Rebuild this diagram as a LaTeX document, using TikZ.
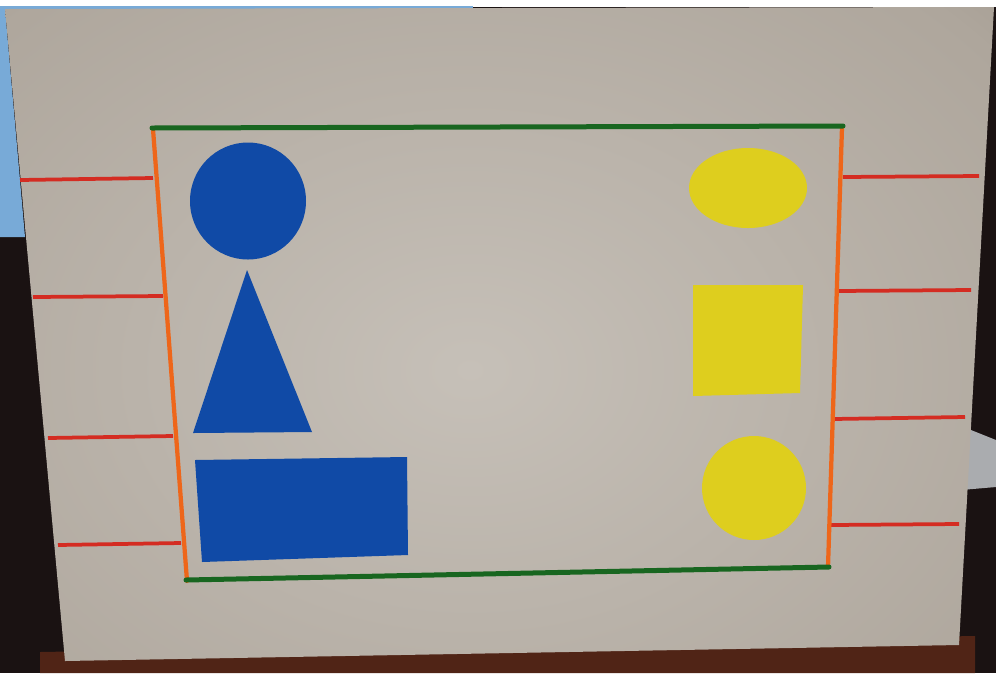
\documentclass[tikz,border=0pt]{standalone}
\usetikzlibrary{calc}
\definecolor{roomdark}{RGB}{26,18,18}
\definecolor{windowblue}{RGB}{120,170,215}
\definecolor{tablebrown}{RGB}{80,36,22}
\definecolor{paperbehind}{RGB}{170,172,175}
\definecolor{cardlight}{RGB}{198,192,184}
\definecolor{cardmid}{RGB}{174,166,156}
\definecolor{carddark}{RGB}{122,112,100}
\definecolor{edgegreen}{RGB}{24,102,32}
\definecolor{sideorange}{RGB}{238,102,26}
\definecolor{tickred}{RGB}{212,44,34}
\definecolor{cardblue}{RGB}{16,74,166}
\definecolor{cardyellow}{RGB}{222,206,30}
\pgfdeclareradialshading{cardglow}{\pgfpoint{0bp}{0bp}}{color(0bp)=(cardlight); color(28bp)=(cardmid); color(50bp)=(carddark)}
\tikzset{
  greenedge/.style={draw=edgegreen, line width=1mm, line cap=round},
  orangeside/.style={draw=sideorange, line width=0.85mm, line cap=round},
  redtick/.style={draw=tickred, line width=0.75mm},
  blueshape/.style={fill=cardblue},
  yellowshape/.style={fill=cardyellow}
}

\begin{document}
\begin{tikzpicture}[x=0.2mm,y=-0.2mm]
        \useasboundingbox (0,0) rectangle (996,673);
        % room behind the card
        \fill[roomdark] (0,0) rectangle (996,673);
        \fill[white] (0,0) rectangle (996,7);
        \fill[windowblue] (0,6) rectangle (473,10);
        \fill[windowblue] (0,9) -- (5,9) -- (25,237) -- (0,237) -- cycle;
        \fill[tablebrown] (40,652) -- (975,636) -- (975,673) -- (40,673) -- cycle;
        \fill[paperbehind] (961,426) -- (996,440) -- (996,487) -- (961,490) -- cycle;
        % the card
        \begin{scope}
          \clip (5,9) -- (994,7) -- (959,645) -- (65,661) -- cycle;
          \shade[shading=cardglow] (-130,-80) rectangle (1070,820);
        \end{scope}
        % red ticks on both sides
        \foreach \xa/\ya/\xb/\yb in {20/180/153/178, 33/297/163/296, 48/438/173/436, 58/545/181/543,
                                      843/177/979/176, 838/291/971/290, 833/419/965/417, 831/525/959/524}
          \draw[redtick] (\xa,\ya) -- (\xb,\yb);
        % orange sides, green top and bottom
        \draw[orangeside] (153,129) -- (187,581);
        \draw[orangeside] (842,127) -- (828,567);
        \draw[greenedge] (152,128) -- (843,126);
        \draw[greenedge] (186,580) -- (829,567);
        % blue shapes on the left
        \fill[blueshape] (248,201) ellipse (58 and 58.5);
        \fill[blueshape] (247,270) -- (312,432) -- (193,433) -- cycle;
        \fill[blueshape] (195,460) -- (407,457) -- (408,555) -- (202,562) -- cycle;
        % yellow shapes on the right
        \fill[yellowshape] (748,188) ellipse (59 and 40);
        \fill[yellowshape] (693,285) -- (803,285) -- (800,393) -- (693,396) -- cycle;
        \fill[yellowshape] (754,488) circle (52);
      \end{tikzpicture}
\end{document}
